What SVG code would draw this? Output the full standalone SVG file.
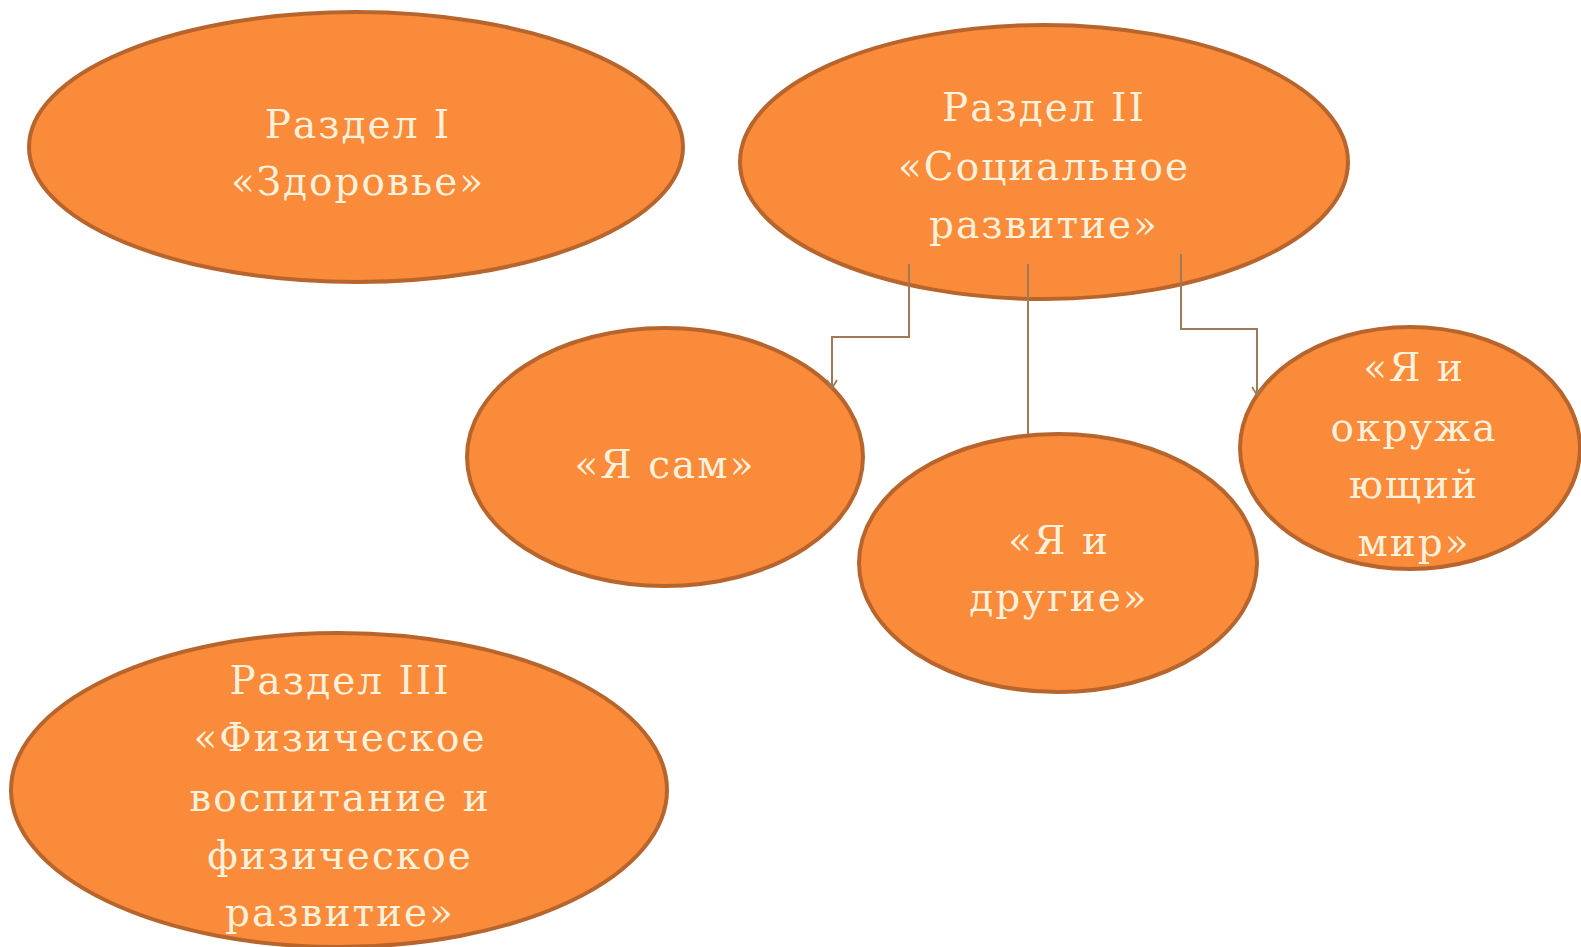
<svg xmlns="http://www.w3.org/2000/svg" width="1581" height="947" viewBox="0 0 1581 947">
<defs>
<style>
.n{fill:#f98b3a;stroke:#b8652d;stroke-width:4}
.t{font-family:"DejaVu Serif","Liberation Serif",serif;font-size:39px;fill:#fdf1dc;text-anchor:middle;letter-spacing:2px}
.c{fill:none;stroke:#a07a58;stroke-width:2}
</style>
<marker id="a" viewBox="0 0 14 14" refX="12" refY="7" markerWidth="14" markerHeight="14" markerUnits="userSpaceOnUse" orient="auto">
<path d="M4,2 L12,7 L4,12" fill="none" stroke="#a07a58" stroke-width="1.8"/>
</marker>
</defs>
<rect width="1581" height="947" fill="#ffffff"/>
<g id="n1">
<ellipse class="n" cx="356" cy="147" rx="327" ry="135"/>
<text class="t" x="358" y="138">Раздел I</text>
<text class="t" x="358" y="195">«Здоровье»</text>
</g>
<g id="n2">
<ellipse class="n" cx="1044" cy="162" rx="304" ry="137"/>
<text class="t" x="1044" y="121">Раздел II</text>
<text class="t" x="1044" y="180">«Социальное</text>
<text class="t" x="1044" y="238">развитие»</text>
</g>
<g id="n3">
<ellipse class="n" cx="665" cy="457" rx="198" ry="129"/>
<text class="t" x="665" y="478">«Я сам»</text>
</g>
<g id="n4">
<ellipse class="n" cx="1058" cy="563" rx="199" ry="129"/>
<text class="t" x="1059" y="554">«Я и</text>
<text class="t" x="1059" y="611">другие»</text>
</g>
<g id="n5">
<ellipse class="n" cx="1410" cy="448" rx="170" ry="121"/>
<text class="t" x="1414" y="381">«Я и</text>
<text class="t" x="1414" y="441">окружа</text>
<text class="t" x="1414" y="498">ющий</text>
<text class="t" x="1414" y="556">мир»</text>
</g>
<g id="n6">
<ellipse class="n" cx="339" cy="790" rx="328" ry="157"/>
<text class="t" x="340" y="694">Раздел III</text>
<text class="t" x="340" y="751">«Физическое</text>
<text class="t" x="340" y="811">воспитание и</text>
<text class="t" x="340" y="869">физическое</text>
<text class="t" x="340" y="926">развитие»</text>
</g>
<g id="connectors">
<path class="c" d="M909,264 V337 H832 V388" marker-end="url(#a)"/>
<path class="c" d="M1028,264 V434"/>
<path class="c" d="M1181,254 V329 H1257 V395" marker-end="url(#a)"/>
</g>
</svg>
